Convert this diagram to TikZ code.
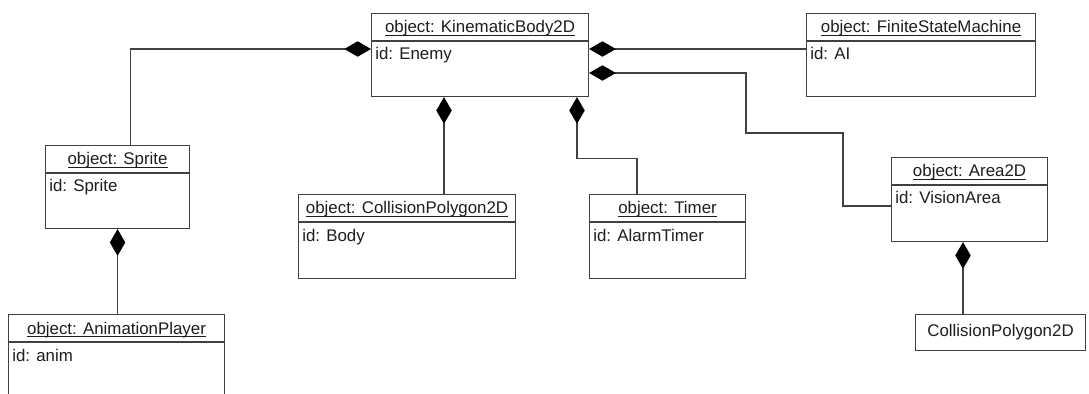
\documentclass[tikz,border=0pt]{standalone}
\usepackage{fontspec}
\setmainfont{Liberation Sans}
\usetikzlibrary{positioning,arrows.meta}
\definecolor{UmlLine}{RGB}{64,64,64}
\definecolor{UmlText}{RGB}{30,30,30}

\tikzset{
  objbox/.style={draw=UmlLine, line width=0.8pt, fill=white, anchor=north west, inner sep=0pt},
  objtitle/.style={font=\fontsize{12}{14}\selectfont, text=UmlText, inner sep=0pt, anchor=base},
  objid/.style={font=\fontsize{12}{14}\selectfont, text=UmlText, inner sep=0pt, anchor=base west},
  divider/.style={draw=UmlLine, line width=0.8pt},
  comp/.style={draw=UmlLine, line width=0.8pt, {Diamond[length=19pt, width=11pt, fill=black, color=black]}-}
}

\begin{document}
\begin{tikzpicture}
  \clip (0,0) rectangle (27.225,-9.85);

  % object boxes
  \node[objbox, minimum width=5.425cm, minimum height=2.075cm] (kb) at (9.275,-0.325) {};
  \node[objbox, minimum width=5.725cm, minimum height=2.075cm] (fsm) at (20.15,-0.325) {};
  \node[objbox, minimum width=3.6cm, minimum height=2.075cm] (sprite) at (1.125,-3.625) {};
  \node[objbox, minimum width=5.4cm, minimum height=2.1cm] (anim) at (0.2,-7.85) {};
  \node[objbox, minimum width=5.425cm, minimum height=2.1cm] (body) at (7.45,-4.85) {};
  \node[objbox, minimum width=3.9cm, minimum height=2.1cm] (timer) at (14.725,-4.85) {};
  \node[objbox, minimum width=3.9cm, minimum height=2.1cm] (vision) at (22.275,-3.925) {};
  \node[objbox, minimum width=4.25cm, minimum height=0.9cm] (poly) at (22.875,-7.85) {};

  % titles, dividers and ids
  \foreach \obj/\cls/\id in {kb/KinematicBody2D/Enemy, fsm/FiniteStateMachine/AI,
      sprite/Sprite/Sprite, anim/AnimationPlayer/anim, body/CollisionPolygon2D/Body,
      timer/Timer/AlarmTimer, vision/Area2D/VisionArea} {
    \node[objtitle] (\obj-title) at ([yshift=-0.5cm]\obj.north) {\underline{\smash{object: \cls}}};
    \draw[divider] ([yshift=-0.7cm]\obj.north west) -- ([yshift=-0.7cm]\obj.north east);
    \node[objid] (\obj-id) at ([xshift=0.1cm, yshift=-1.175cm]\obj.north west) {id: \id};
  }
  \node[objtitle, anchor=center] (poly-title) at (poly.center) {CollisionPolygon2D};

  % bend points
  \coordinate (kbLeft) at ([yshift=-0.9cm]kb.north west);
  \coordinate (kbRightA) at ([yshift=-0.9cm]kb.north east);
  \coordinate (kbRightB) at ([yshift=-1.5cm]kb.north east);
  \coordinate (kbBottomA) at ([xshift=1.825cm]kb.south west);
  \coordinate (kbBottomB) at ([xshift=5.15cm]kb.south west);
  \coordinate (spriteIn) at ([xshift=0.325cm]sprite.north);
  \coordinate (fsmIn) at ([yshift=-0.9cm]fsm.north west);
  \coordinate (visionIn) at ([yshift=-1.225cm]vision.north west);
  \coordinate (visionBend) at (18.65,-3.325);
  \coordinate (timerIn) at ([xshift=1.2cm]timer.north west);
  \coordinate (visionOut) at ([xshift=1.8cm]vision.south west);

  % composition links
  \draw[comp] (kbLeft) -| (spriteIn);
  \draw[comp] (kbRightA) -- (fsmIn);
  \draw[comp] (kbRightB) -| (visionBend) -- ++(2.425,0) |- (visionIn);
  \draw[comp] (kbBottomA) -- (kbBottomA |- body.north);
  \draw[comp] (kbBottomB) -- ++(0,-1.525) -| (timerIn);
  \draw[comp] (sprite.south) -- (sprite.south |- anim.north);
  \draw[comp] (visionOut) -- (visionOut |- poly.north);
\end{tikzpicture}
\end{document}
